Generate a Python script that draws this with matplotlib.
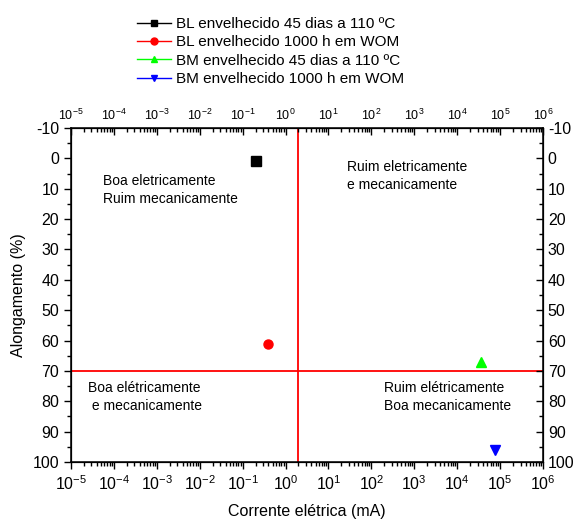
import matplotlib
matplotlib.use("Agg")
from matplotlib import pyplot as plt
from matplotlib.ticker import MultipleLocator, LogLocator
import numpy as np

plt.rcParams['font.family'] = ['Liberation Sans', 'DejaVu Sans']
plt.rcParams['mathtext.fontset'] = 'custom'
plt.rcParams['mathtext.rm'] = 'Liberation Sans'
plt.rcParams['mathtext.it'] = 'Liberation Sans'
plt.rcParams['axes.unicode_minus'] = False

# dados
labels = ["BL envelhecido 45 dias a 110 ºC",
          "BL envelhecido 1000 h em WOM",
          "BM envelhecido 45 dias a 110 ºC",
          "BM envelhecido 1000 h em WOM"]
corrente = [0.2, 0.38, 3.6e4, 7.6e4]
alongamento = [1, 61, 67, 96]
cores = ["black", "red", "#00ff00", "blue"]
marcadores = ["s", "o", "^", "v"]

limite_corrente = 1.9
limite_alongamento = 70

fig = plt.figure(figsize=(5.76, 5.19), dpi=100)
ax = fig.add_axes([71/576, 1 - 462/519, 472/576, 334/519])

handles = []
for x, y, c, m, lab in zip(corrente, alongamento, cores, marcadores, labels):
    ax.plot([x], [y], marker=m, color=c, markersize=6.5, linestyle="none")
    h, = ax.plot([], [], marker=m, color=c, markersize=5, linewidth=1, label=lab)
    handles.append(h)

ax.axvline(limite_corrente, color="red", linewidth=1.3)
ax.axhline(limite_alongamento, color="red", linewidth=1.3)

ax.set_xscale("log")
ax.set_xlim(1e-5, 1e6)
ax.set_ylim(100, -10)
ax.xaxis.set_major_locator(LogLocator(base=10, numticks=20))
ax.xaxis.set_minor_locator(LogLocator(base=10, subs=np.arange(2, 10), numticks=20))
ax.yaxis.set_major_locator(MultipleLocator(10))
ax.yaxis.set_minor_locator(MultipleLocator(5))
ax.tick_params(which="major", direction="out", length=5, width=1, labelsize=11.5)
ax.tick_params(which="minor", direction="out", length=3, width=1)
for s in ax.spines.values():
    s.set_linewidth(1.1)

# eixos de cima e da direita
axt = ax.twiny()
axt.set_xscale("log")
axt.set_xlim(ax.get_xlim())
axt.xaxis.set_major_locator(LogLocator(base=10, numticks=20))
axt.xaxis.set_minor_locator(LogLocator(base=10, subs=np.arange(2, 10), numticks=20))
axt.tick_params(which="major", direction="in", length=5, width=1, labelsize=9)
axt.tick_params(which="minor", direction="in", length=3, width=1)

axr = ax.twinx()
axr.set_ylim(ax.get_ylim())
axr.yaxis.set_major_locator(MultipleLocator(10))
axr.yaxis.set_minor_locator(MultipleLocator(5))
axr.tick_params(which="major", direction="in", length=5, width=1, labelsize=11.5)
axr.tick_params(which="minor", direction="in", length=3, width=1)

ax.text(5.6e-5, 10.4, "Boa eletricamente\nRuim mecanicamente", fontsize=10, va="center", linespacing=1.4)
ax.text(27, 5.8, "Ruim eletricamente\ne mecanicamente", fontsize=10, va="center", linespacing=1.4)
ax.text(2.5e-5, 78.6, "Boa elétricamente\n e mecanicamente", fontsize=10, va="center", linespacing=1.4)
ax.text(200, 78.6, "Ruim elétricamente\nBoa mecanicamente", fontsize=10, va="center", linespacing=1.4)

ax.set_xlabel("Corrente elétrica (mA)", fontsize=11.5, labelpad=8)
ax.set_ylabel("Alongamento (%)", fontsize=11.5, labelpad=5)

fig.legend(handles=handles, loc="upper left", bbox_to_anchor=(131/576, 1 - 11/519),
           frameon=False, fontsize=11, handlelength=2.2, handletextpad=0.35,
           labelspacing=0.28, borderaxespad=0)

fig.savefig("out.png", dpi=100)
